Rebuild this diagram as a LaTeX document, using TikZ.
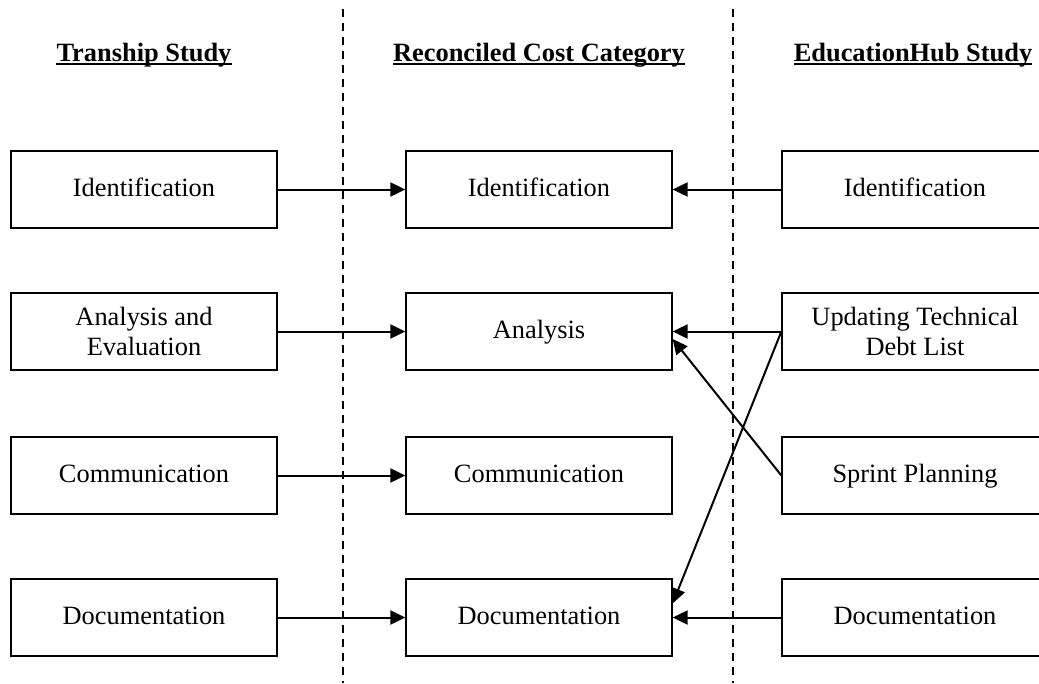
\documentclass[tikz,border=0pt]{standalone}
\usepackage{fontspec}
\setmainfont{Liberation Serif}
\usetikzlibrary{arrows.meta}
\begin{document}
\begin{tikzpicture}[x=1pt,y=-1pt,
  box/.style={draw, fill=white, line width=1.3pt, minimum width=266pt, minimum height=77pt, inner sep=2pt, align=center,
    font=\fontsize{26.4}{30}\selectfont},
  one/.style={text height=19pt, text depth=5pt},
  hdr/.style={inner sep=0pt, font=\fontsize{26.4}{30}\selectfont\bfseries},
  ul/.style={line width=2pt},
  sep/.style={line width=2pt, dash pattern=on 8pt off 6pt},
  conn/.style={line width=2pt, -{Triangle[length=15pt,width=14pt]}}]
\useasboundingbox (0,0) rectangle (1039,683);
\clip (0,0) rectangle (1039,683);
% separators
\coordinate (s1t) at (343,9); \coordinate (s1b) at (343,683);
\coordinate (s2t) at (733,9); \coordinate (s2b) at (733,683);
\draw[sep] (s1t) -- (s1b);
\draw[sep] (s2t) -- (s2b);
% headers
\node[hdr, anchor=base] (h1) at (144,61) {Tranship Study};
\node[hdr, anchor=base] (h2) at (539,61) {Reconciled Cost Category};
\node[hdr, anchor=base] (h3) at (913,61) {EducationHub Study};
\foreach \h in {h1,h2,h3}{
  \draw[ul] ([yshift=-2.5pt]\h.base west) -- ([yshift=-2.5pt]\h.base east);
}
% left column
\node[box, one] (l1) at (144,189.5) {Identification};
\node[box] (l2) at (144,331.5) {Analysis and\\Evaluation};
\node[box, one] (l3) at (144,475.5) {Communication};
\node[box, one] (l4) at (144,617.5) {Documentation};
% middle column
\node[box, one] (m1) at (539,189.5) {Identification};
\node[box, one] (m2) at (539,331.5) {Analysis};
\node[box, one] (m3) at (539,475.5) {Communication};
\node[box, one] (m4) at (539,617.5) {Documentation};
% right column
\node[box, one] (r1) at (915,189.5) {Identification};
\node[box] (r2) at (915,331.5) {Updating Technical\\Debt List};
\node[box, one] (r3) at (915,475.5) {Sprint Planning};
\node[box, one] (r4) at (915,617.5) {Documentation};
% connectors
\draw[conn] (l1.east) -- (m1.west);
\draw[conn] (l2.east) -- (m2.west);
\draw[conn] (l3.east) -- (m3.west);
\draw[conn] (l4.east) -- (m4.west);
\draw[conn] (r1.west) -- (m1.east);
\draw[conn] (r2.west) -- (m2.east);
\draw[conn] (r3.west) -- ([yshift=-7.5pt]m2.east);
\draw[conn] (r2.west) -- ([yshift=14pt]m4.east);
\draw[conn] (r4.west) -- (m4.east);
\end{tikzpicture}
\end{document}
